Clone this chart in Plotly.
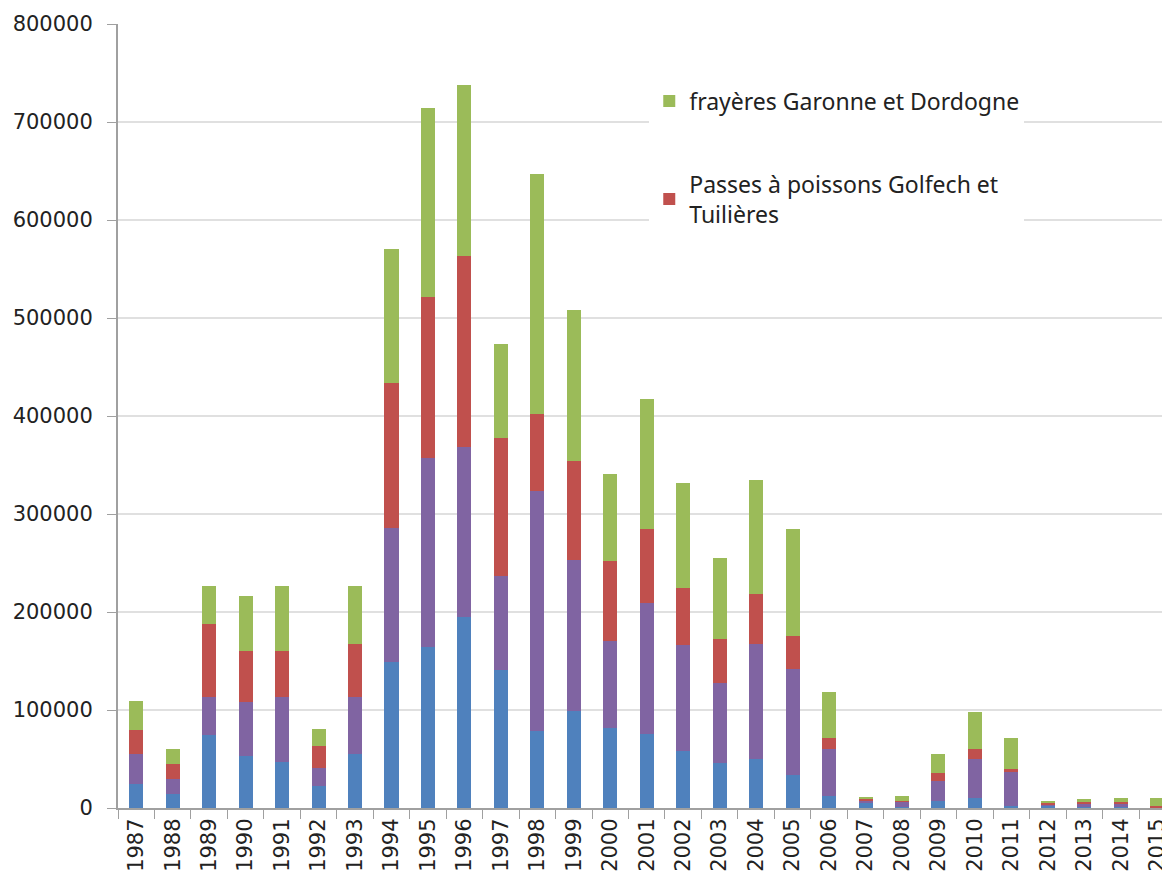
import plotly.graph_objects as go

annees = [str(a) for a in range(1987, 2016)]

# valeurs (nombre d'individus)
bleu = [24500, 14000, 74000, 52700, 47300, 22100, 55400, 149000, 163800, 194500,
        141000, 78700, 99000, 81200, 75200, 58500, 45500, 50400, 33500, 12500,
        4800, 1300, 7500, 9900, 2300, 1700, 700, 700, 0]
violet = [30500, 16000, 39000, 55800, 65700, 18400, 57600, 136900, 193300, 174100,
          95500, 244900, 154300, 89000, 134100, 107800, 82300, 116900, 108300, 47600,
          2300, 5200, 20000, 39800, 34800, 2100, 4100, 4100, 300]
passes = [24600, 14600, 75000, 51500, 47000, 22800, 54700, 148000, 163900, 194900,
          141100, 78100, 100400, 81600, 75200, 57800, 45100, 50600, 33500, 11500,
          2100, 1000, 7900, 10500, 2400, 1300, 1300, 1300, 1700]
frayeres = [29400, 15900, 39000, 56600, 67000, 17300, 59300, 136900, 193300, 174500,
            95400, 245300, 154500, 88600, 133100, 107900, 82600, 116800, 109100, 47000,
            2300, 5100, 19700, 37400, 31900, 2300, 2700, 3800, 7900]

fig = go.Figure()

fig.add_trace(go.Bar(x=annees, y=bleu, marker_color='#4F81BD', showlegend=False, name='bleu'))
fig.add_trace(go.Bar(x=annees, y=violet, marker_color='#8064A2', showlegend=False, name='violet'))
fig.add_trace(go.Bar(x=annees, y=passes, marker_color='#C0504D', legendgroup='b', legendrank=2,
                     name='Passes à poissons Golfech et<br>Tuilières'))
fig.add_trace(go.Bar(x=annees, y=frayeres, marker_color='#9BBB59', legendgroup='a', legendrank=1,
                     name='frayères Garonne et Dordogne'))

fig.update_traces(marker_line_width=0)

# la page html ajoute 8 px de marge autour de la figure
fig.update_layout(
    width=1162, height=869,
    barmode='stack', bargap=0.615,
    plot_bgcolor='white', paper_bgcolor='white',
    margin=dict(l=110, r=0, t=16, b=69),
    font=dict(family='DejaVu Sans', color='#222222'),
    legend=dict(x=0.505, y=0.929, xanchor='left', yanchor='top',
                traceorder='grouped', tracegroupgap=50, bgcolor='white',
                font=dict(family='Noto Sans', size=23, color='#222222')),
    xaxis=dict(type='category', range=[-0.5, 28.35], tickangle=-90,
               tickson='boundaries', ticks='outside', ticklen=9, tickcolor='#a0a0a0',
               showline=True, linecolor='#a0a0a0', linewidth=2,
               tickfont=dict(size=21, color='#222222')),
    yaxis=dict(range=[0, 800000], dtick=100000, tickformat='d',
               ticks='outside', ticklen=9, tickcolor='#a0a0a0', ticklabelstandoff=10,
               showline=True, linecolor='#a0a0a0', linewidth=2,
               showgrid=True, gridcolor='#e0e0e0', gridwidth=1.5,
               zeroline=False, tickfont=dict(size=21, color='#222222')),
)

fig.write_html("out.html")
